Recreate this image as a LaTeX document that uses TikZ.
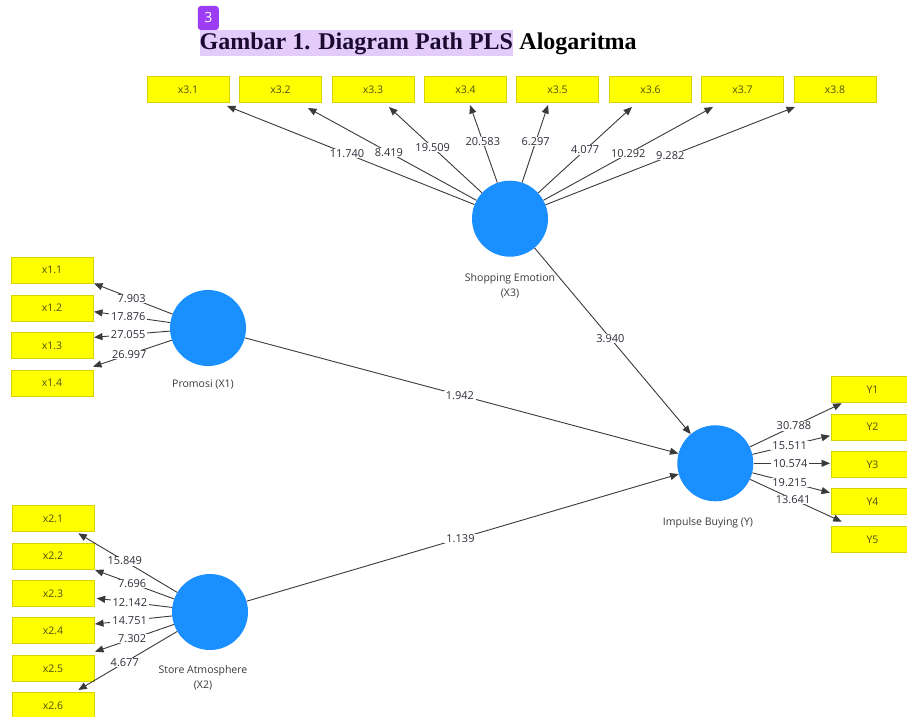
\documentclass[tikz,border=0pt]{standalone}
\usepackage{fontspec}
\setmainfont{Open Sans}
\newfontfamily\titlefont{Liberation Serif}
\usetikzlibrary{arrows.meta,calc}
\definecolor{latblue}{HTML}{1A8FFF}
\definecolor{boxborder}{HTML}{D8D200}
\definecolor{boxfill}{HTML}{FFFF00}
\definecolor{boxtext}{HTML}{50500F}
\definecolor{linecol}{HTML}{3A3A3A}
\definecolor{valtext}{HTML}{2E2E3A}
\definecolor{hlcol}{HTML}{E3CCFB}
\definecolor{badgecol}{HTML}{9D3CF5}
\definecolor{titledark}{HTML}{1A0A30}
\begin{document}
\begin{tikzpicture}[x=1pt,y=-1pt,
  ind/.style={draw=boxborder, line width=0.8pt, fill=boxfill, minimum width=82pt, minimum height=26pt, inner sep=0pt, text=boxtext, font=\fontsize{10.5}{12}\selectfont},
  lat/.style={circle, fill=latblue, minimum size=76pt, inner sep=0pt},
  latlab/.style={align=center, text=linecol, font=\fontsize{10.5}{15}\selectfont},
  arr/.style={draw=linecol, line width=0.9pt, -{Triangle[length=8.5pt,width=7pt]}},
  val/.style={fill=white, inner xsep=2pt, inner ysep=0.5pt, text=valtext, font=\fontsize{11}{12}\selectfont}]
\useasboundingbox (0,0) rectangle (907,717);
\fill[white] (0,0) rectangle (907,717);

% title
\node[fill=badgecol, rounded corners=3pt, minimum width=21pt, minimum height=24pt, inner sep=0pt, text=white, font=\fontsize{14}{16}\selectfont] (badge) at (208.3,18) {3};
\node[anchor=base west, fill=hlcol, inner xsep=0pt, inner ysep=0pt, text depth=7pt, text height=19.5pt, text=titledark, font=\titlefont\bfseries\fontsize{24}{28}\selectfont] (t1) at (199.5,49.5) {Gambar 1. Diagram Path PLS};
\node[anchor=base west, inner sep=0pt, text=black, font=\titlefont\bfseries\fontsize{24}{28}\selectfont] (t2) at ($(t1.base east)+(6,0)$) {Alogaritma};

% indicators X3
\node[ind] (x31) at (188,89.5) {x3.1};
\node[ind] (x32) at (280.5,89.5) {x3.2};
\node[ind] (x33) at (373,89.5) {x3.3};
\node[ind] (x34) at (465.5,89.5) {x3.4};
\node[ind] (x35) at (557.5,89.5) {x3.5};
\node[ind] (x36) at (650.5,89.5) {x3.6};
\node[ind] (x37) at (742.5,89.5) {x3.7};
\node[ind] (x38) at (835,89.5) {x3.8};

% indicators X1
\node[ind] (x11) at (52,270.3) {x1.1};
\node[ind] (x12) at (52,308) {x1.2};
\node[ind] (x13) at (52,345.7) {x1.3};
\node[ind] (x14) at (52,383) {x1.4};

% indicators X2
\node[ind] (x21) at (53,518.7) {x2.1};
\node[ind] (x22) at (53,556) {x2.2};
\node[ind] (x23) at (53,593.3) {x2.3};
\node[ind] (x24) at (53,630.7) {x2.4};
\node[ind] (x25) at (53,668.3) {x2.5};
\node[ind] (x26) at (53,705.7) {x2.6};

% indicators Y
\node[ind] (y1) at (872.5,389.7) {Y1};
\node[ind] (y2) at (872.5,427) {Y2};
\node[ind] (y3) at (872.5,464.7) {Y3};
\node[ind] (y4) at (872.5,501.7) {Y4};
\node[ind] (y5) at (872.5,539.3) {Y5};

% latent variables
\node[lat] (se) at (510,218.7) {};
\node[lat] (pr) at (208,328) {};
\node[lat] (sa) at (210,612) {};
\node[lat] (ib) at (715.3,463.3) {};

\node[latlab] (seLab) at (510,285.5) {Shopping Emotion\\(X3)};
\node[latlab] (prLab) at (203,384) {Promosi (X1)};
\node[latlab] (saLab) at (203,677.5) {Store Atmosphere\\(X2)};
\node[latlab] (ibLab) at (708,522.3) {Impulse Buying (Y)};

% arrow targets
\coordinate (t31) at (227,106);
\coordinate (t32) at (308,108);
\coordinate (t33) at (389,107);
\coordinate (t34) at (470,105);
\coordinate (t35) at (548,105);
\coordinate (t36) at (632,107);
\coordinate (t37) at (713,107);
\coordinate (t38) at (795,107);

\coordinate (t11) at (94,283.5);
\coordinate (t12) at (94,311.7);
\coordinate (t13) at (94,337.3);
\coordinate (t14) at (93,366.7);

\coordinate (t21) at (78.3,533.3);
\coordinate (t22) at (95,570);
\coordinate (t23) at (96.7,598.3);
\coordinate (t24) at (95,624);
\coordinate (t25) at (95,651.7);
\coordinate (t26) at (78.3,690);

\coordinate (ty1) at (841.7,403.3);
\coordinate (ty2) at (830,435.7);
\coordinate (ty3) at (830,463.3);
\coordinate (ty4) at (830,492.7);
\coordinate (ty5) at (841.7,521.7);

% outer loadings X3
\draw[arr] (se) -- node[val,pos=0.515]{11.740} (t31);
\draw[arr] (se) -- node[val,pos=0.52]{8.419} (t32);
\draw[arr] (se) -- node[val,pos=0.53]{19.509} (t33);
\draw[arr] (se) -- node[val,pos=0.53]{20.583} (t34);
\draw[arr] (se) -- node[val,pos=0.525]{6.297} (t35);
\draw[arr] (se) -- node[val,pos=0.5]{4.077} (t36);
\draw[arr] (se) -- node[val,pos=0.5]{10.292} (t37);
\draw[arr] (se) -- node[val,pos=0.5]{9.282} (t38);

% outer loadings X1
\draw[arr] (pr) -- node[val,pos=0.52]{7.903} (t11);
\draw[arr] (pr) -- node[val,pos=0.55]{17.876} (t12);
\draw[arr] (pr) -- node[val,pos=0.55]{27.055} (t13);
\draw[arr] (pr) -- node[val,pos=0.54]{26.997} (t14);

% outer loadings X2
\draw[arr] (sa) -- node[val,pos=0.53]{15.849} (t21);
\draw[arr] (sa) -- node[val,pos=0.53]{7.696} (t22);
\draw[arr] (sa) -- node[val,pos=0.56]{12.142} (t23);
\draw[arr] (sa) -- node[val,pos=0.55]{14.751} (t24);
\draw[arr] (sa) -- node[val,pos=0.53]{7.302} (t25);
\draw[arr] (sa) -- node[val,pos=0.53]{4.677} (t26);

% outer loadings Y
\draw[arr] (ib) -- node[val,pos=0.48]{30.788} (ty1);
\draw[arr] (ib) -- node[val,pos=0.48]{15.511} (ty2);
\draw[arr] (ib) -- node[val,pos=0.48]{10.574} (ty3);
\draw[arr] (ib) -- node[val,pos=0.48]{19.215} (ty4);
\draw[arr] (ib) -- node[val,pos=0.47]{13.641} (ty5);

% structural paths
\draw[arr] (pr) -- node[val,pos=0.496]{1.942} (ib);
\draw[arr] (sa) -- node[val,pos=0.495]{1.139} (ib);
\draw[arr] (se) -- node[val,pos=0.486]{3.940} (ib);
\end{tikzpicture}
\end{document}
